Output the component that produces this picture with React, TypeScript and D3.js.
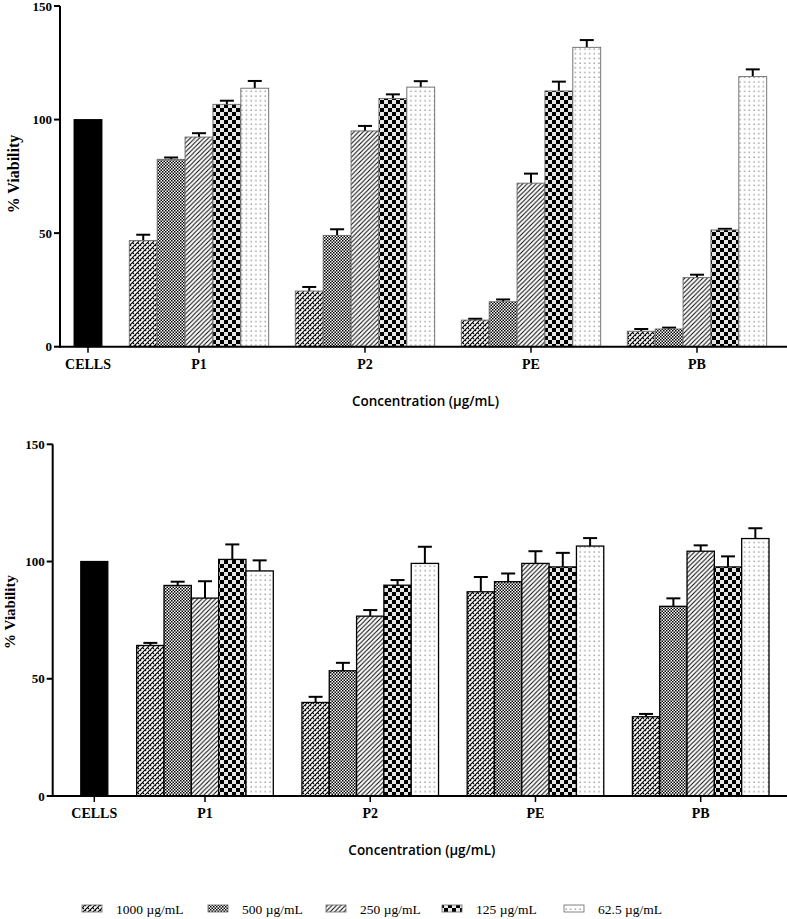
import React from "react";
import * as d3 from "d3";

const groups = ["P1", "P2", "PE", "PB"];
const concentrations = ["1000 µg/mL", "500 µg/mL", "250 µg/mL", "125 µg/mL", "62.5 µg/mL"];
const patternIds = ["p1000", "p500", "p250", "p125", "p62"];
const yTicks = [0, 50, 100, 150];
const cellsLabel = "CELLS";
const cellsValue = 100;
const yTitle = "% Viability";
const xTitle = "Concentration (µg/mL)";

// Top chart: mean values per concentration (across P1, P2, PE, PB) and error
const top1000 = [46.7, 24.5, 11.7, 6.8];
const top1000Err = [2.6, 1.8, 0.6, 1.0];
const top500 = [82.5, 49.0, 19.8, 7.8];
const top500Err = [0.8, 2.7, 1.0, 0.6];
const top250 = [92.3, 95.0, 72.0, 30.4];
const top250Err = [1.7, 2.2, 4.2, 1.3];
const top125 = [106.7, 109.3, 112.6, 51.4];
const top125Err = [1.6, 1.8, 4.1, 0.5];
const top62 = [113.8, 114.3, 131.8, 118.9];
const top62Err = [3.2, 2.6, 3.2, 3.2];

// Bottom chart
const bot1000 = [64.2, 39.9, 87.1, 33.8];
const bot1000Err = [1.1, 2.4, 6.3, 1.2];
const bot500 = [89.8, 53.4, 91.4, 80.9];
const bot500Err = [1.6, 3.4, 3.5, 3.4];
const bot250 = [84.4, 76.7, 99.2, 104.4];
const bot250Err = [7.2, 2.6, 5.2, 2.5];
const bot125 = [100.9, 89.9, 97.7, 97.7];
const bot125Err = [6.4, 2.2, 6.0, 4.5];
const bot62 = [96.0, 99.2, 106.6, 109.8];
const bot62Err = [4.5, 7.1, 3.4, 4.4];

const topSeries = [top1000, top500, top250, top125, top62];
const topErrors = [top1000Err, top500Err, top250Err, top125Err, top62Err];
const botSeries = [bot1000, bot500, bot250, bot125, bot62];
const botErrors = [bot1000Err, bot500Err, bot250Err, bot125Err, bot62Err];

const serif = "'Liberation Serif', 'Times New Roman', serif";
const sans = "'Open Sans', 'Noto Sans', sans-serif";

type ChartProps = {
  series: number[][];
  errors: number[][];
  y0: number;
  y1: number;
  axisX: number;
  xEnd: number;
  g0: number;
  g1: number;
  half: number;
  cellsX: number;
  cellsW: number;
  xLabelY: number;
  titleY: number;
  yTitleX: number;
  yTitleY: number;
  yTitleSize: number;
  barStroke: string;
  barStrokeW: number;
};

function Chart(p: ChartProps) {
  const y = d3.scaleLinear().domain([0, 150]).range([p.y0, p.y1]);
  const gx = d3.scalePoint<string>().domain(groups).range([p.g0, p.g1]);
  const inner = d3.scaleBand<string>().domain(concentrations).range([-p.half, p.half]).paddingInner(0);
  const bw = inner.bandwidth();
  const cap = 14;
  return (
    <g>
      <rect
        x={p.cellsX - p.cellsW / 2}
        y={y(cellsValue)}
        width={p.cellsW}
        height={y(0) - y(cellsValue)}
        fill="#000"
        stroke="#000"
        strokeWidth={p.barStrokeW}
      />
      {groups.map((g, gi) =>
        concentrations.map((c, ci) => {
          const v = p.series[ci][gi];
          const e = p.errors[ci][gi];
          const x = (gx(g) as number) + (inner(c) as number);
          const cx = x + bw / 2;
          return (
            <g key={g + c}>
              <line x1={cx} x2={cx} y1={y(v)} y2={y(v + e)} stroke="#000" strokeWidth={2} />
              <line x1={cx - cap / 2} x2={cx + cap / 2} y1={y(v + e)} y2={y(v + e)} stroke="#000" strokeWidth={2} />
              <rect
                x={x}
                y={y(v)}
                width={bw}
                height={y(0) - y(v)}
                fill={`url(#${patternIds[ci]})`}
                stroke={p.barStroke}
                strokeWidth={p.barStrokeW}
              />
            </g>
          );
        })
      )}
      <line x1={p.axisX} x2={p.axisX} y1={y(150)} y2={y(0) + 1} stroke="#000" strokeWidth={2} />
      {yTicks.map((t) => (
        <g key={t}>
          <line x1={p.axisX - 6} x2={p.axisX} y1={y(t)} y2={y(t)} stroke="#000" strokeWidth={2} />
          <text
            x={p.axisX - 8}
            y={y(t)}
            dy="0.35em"
            textAnchor="end"
            fontFamily={serif}
            fontWeight="bold"
            fontSize={13}
          >
            {t}
          </text>
        </g>
      ))}
      <line x1={p.axisX - 1} x2={p.xEnd} y1={y(0)} y2={y(0)} stroke="#000" strokeWidth={2} />
      {[cellsLabel, ...groups].map((g) => {
        const cx = g === cellsLabel ? p.cellsX : (gx(g) as number);
        return (
          <g key={g}>
            <line x1={cx} x2={cx} y1={y(0)} y2={y(0) + 6} stroke="#000" strokeWidth={1.5} />
            <text x={cx} y={p.xLabelY} textAnchor="middle" fontFamily={serif} fontWeight="bold" fontSize={14}>
              {g}
            </text>
          </g>
        );
      })}
      <text
        x={(p.axisX + p.xEnd) / 2 + 2}
        y={p.titleY}
        textAnchor="middle"
        fontFamily={sans}
        fontWeight={600}
        fontSize={13.5}
      >
        {xTitle}
      </text>
      <text
        transform={`translate(${p.yTitleX},${p.yTitleY}) rotate(-90)`}
        textAnchor="middle"
        dy="0.35em"
        fontFamily={serif}
        fontWeight="bold"
        fontSize={p.yTitleSize}
      >
        {yTitle}
      </text>
    </g>
  );
}

export default function App() {
  const legendX = [82, 208, 326, 442, 564];
  return (
    <svg
      width={787}
      height={919}
      style={{ position: "absolute", left: 0, top: 0, background: "#fff" }}
    >
      <defs>
        <pattern id="p1000" width={5} height={5} patternUnits="userSpaceOnUse">
          <rect width={5} height={5} fill="#fff" />
          <path d="M-1,6 L6,-1 M-1,1 L1,-1 M4,6 L6,4" stroke="#000" strokeWidth={1.2} />
          <path d="M2.5,2.5 L4,4 M0,0 L1.2,1.2" stroke="#000" strokeWidth={1.1} />
        </pattern>
        <pattern id="p500" width={3} height={3} patternUnits="userSpaceOnUse">
          <rect width={3} height={3} fill="#fff" />
          <rect width={1.5} height={1.5} fill="#000" />
          <rect x={1.5} y={1.5} width={1.5} height={1.5} fill="#000" />
        </pattern>
        <pattern id="p250" width={4.5} height={4.5} patternUnits="userSpaceOnUse">
          <rect width={4.5} height={4.5} fill="#fff" />
          <path d="M-1,5.5 L5.5,-1 M-1,1 L1,-1 M3.5,5.5 L5.5,3.5" stroke="#000" strokeWidth={1} />
        </pattern>
        <pattern id="p125" width={8} height={8} patternUnits="userSpaceOnUse">
          <rect width={8} height={8} fill="#e6e6e6" />
          <rect width={4} height={4} fill="#000" />
          <rect x={4} y={4} width={4} height={4} fill="#000" />
        </pattern>
        <pattern id="p62" width={4.7} height={4.7} patternUnits="userSpaceOnUse">
          <rect width={4.7} height={4.7} fill="#fff" />
          <rect x={1.5} y={1.5} width={1.1} height={1.1} fill="#555" />
        </pattern>
      </defs>
      <Chart
        series={topSeries}
        errors={topErrors}
        y0={346.7}
        y1={6}
        axisX={60}
        xEnd={787}
        g0={199}
        g1={697}
        half={69.7}
        cellsX={88}
        cellsW={28}
        xLabelY={369}
        titleY={406}
        yTitleX={13}
        yTitleY={174}
        yTitleSize={16}
        barStroke="#666"
        barStrokeW={0.9}
      />
      <Chart
        series={botSeries}
        errors={botErrors}
        y0={796}
        y1={444.3}
        axisX={52.7}
        xEnd={787}
        g0={205}
        g1={700.7}
        half={68.3}
        cellsX={94.3}
        cellsW={27}
        xLabelY={818}
        titleY={855}
        yTitleX={10}
        yTitleY={612}
        yTitleSize={15}
        barStroke="#000"
        barStrokeW={1.3}
      />
      {concentrations.map((c, i) => (
        <g key={c}>
          <rect
            x={legendX[i]}
            y={905}
            width={20}
            height={7}
            fill={`url(#${patternIds[i]})`}
            stroke="#666"
            strokeWidth={0.8}
          />
          <text x={legendX[i] + 34} y={914} fontFamily={serif} fontSize={13.5}>
            {c}
          </text>
        </g>
      ))}
    </svg>
  );
}
